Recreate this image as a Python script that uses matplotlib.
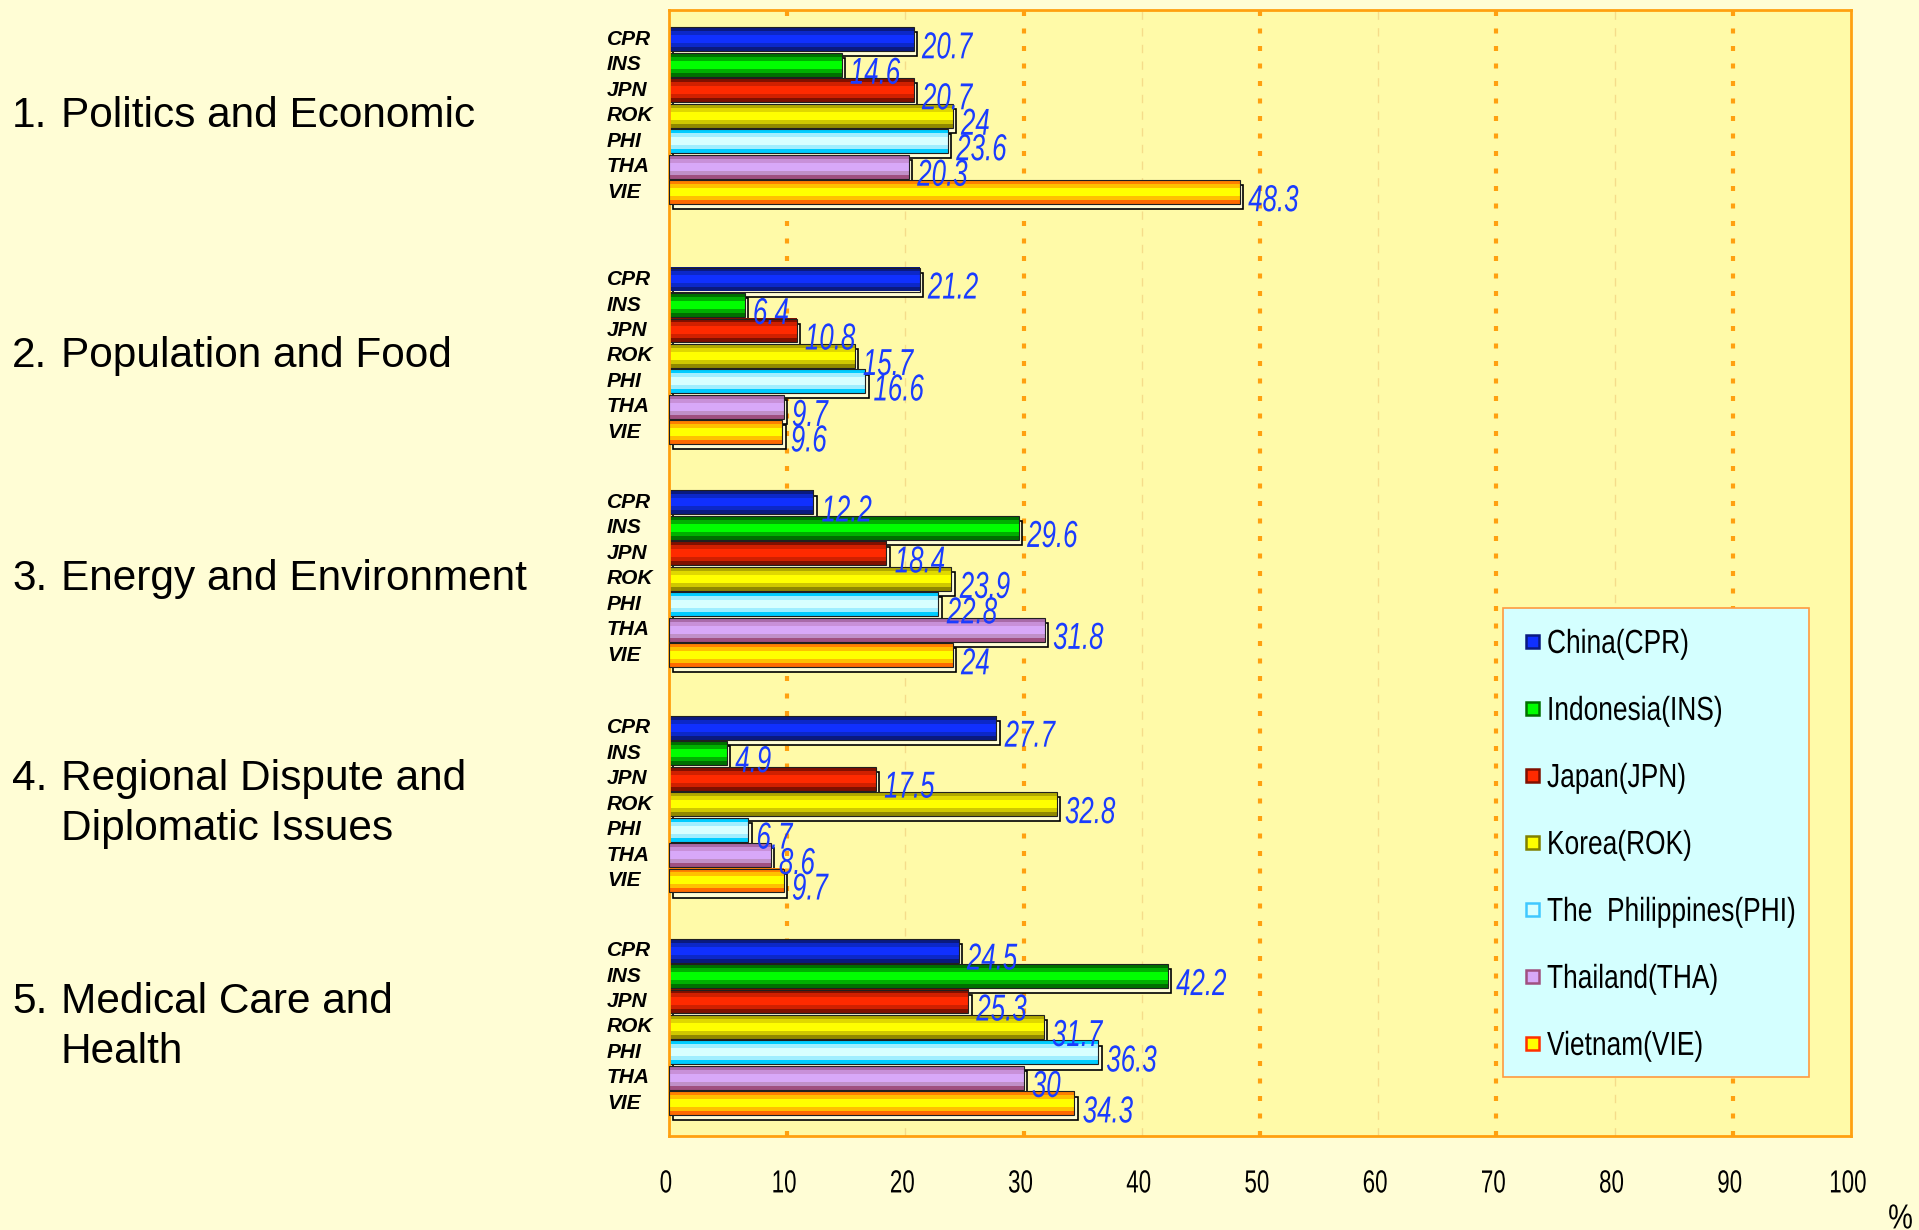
import matplotlib
matplotlib.use("Agg")
import matplotlib.pyplot as plt
import matplotlib.transforms as mtransforms
from matplotlib.patches import Rectangle, PathPatch
from matplotlib.textpath import TextPath
from matplotlib.font_manager import FontProperties
from matplotlib.colors import to_rgb
import numpy as np

# ---- data ----
topics = ["Politics and Economic", "Population and Food", "Energy and Environment",
          "Regional Dispute and\nDiplomatic Issues", "Medical Care and\nHealth"]
codes = ["CPR", "INS", "JPN", "ROK", "PHI", "THA", "VIE"]
countries = ["China(CPR)", "Indonesia(INS)", "Japan(JPN)", "Korea(ROK)",
             "The  Philippines(PHI)", "Thailand(THA)", "Vietnam(VIE)"]
politics = [20.7, 14.6, 20.7, 24, 23.6, 20.3, 48.3]
population = [21.2, 6.4, 10.8, 15.7, 16.6, 9.7, 9.6]
energy = [12.2, 29.6, 18.4, 23.9, 22.8, 31.8, 24]
dispute = [27.7, 4.9, 17.5, 32.8, 6.7, 8.6, 9.7]
medical = [24.5, 42.2, 25.3, 31.7, 36.3, 30, 34.3]
values = [politics, population, energy, dispute, medical]
xticks = [0, 10, 20, 30, 40, 50, 60, 70, 80, 90, 100]

# vertical colour bands for each country bar (top -> bottom)
bands = [
    ["#0a1a80", "#0c28c8", "#1030ff", "#1030ff", "#0c28c8", "#0a1a80"],
    ["#007000", "#00b000", "#00ff00", "#00ff00", "#00b000", "#007000"],
    ["#801000", "#d02000", "#ff2a00", "#ff2a00", "#d02000", "#801000"],
    ["#b0a800", "#e0d800", "#ffff00", "#ffff00", "#d0c800", "#908800"],
    ["#00ccff", "#a0eeff", "#d8ffff", "#d8ffff", "#a0eeff", "#00ccff"],
    ["#a86aa8", "#c890d8", "#d8a8f8", "#d8a8f8", "#c090c8", "#a05080"],
    ["#ff8000", "#ffc000", "#ffff00", "#ffff00", "#ffc000", "#ff6a00"],
]
legend_face = ["#1030ff", "#00ff00", "#ff2a00", "#ffff00", "#d8ffff", "#d8a8f8", "#ffff00"]
legend_edge = ["#0a1a80", "#007000", "#801000", "#808000", "#40c8ff", "#a05080", "#ff3000"]

fig_bg = "#fffdd5"
ax_bg = "#fffaa8"
orange = "#ffa010"

W, H = 1919, 1230
fig = plt.figure(figsize=(W / 100, H / 100), dpi=100, facecolor=fig_bg)
ax = fig.add_axes([669 / W, 1 - 1136 / H, (1851 - 669) / W, (1136 - 10) / H])
ax.set_facecolor(ax_bg)
PX = fig.dpi / 72.0


def ctext(x, y, s, size, trans, sx=0.78, ha="left", va="center", color="black",
          style="normal", weight="normal", zorder=6):
    """Draw horizontally condensed text as a path (no narrow font installed)."""
    fp = FontProperties(family="Liberation Sans", style=style, weight=weight)
    tp = TextPath((0, 0), s, size=size, prop=fp)
    w = tp.get_extents().x1
    ox = {"left": 0, "center": w / 2, "right": w}[ha]
    oy = {"center": 0.716 * size / 2, "baseline": 0}[va]
    tr = (mtransforms.Affine2D().translate(-ox, -oy).scale(sx * PX, PX)
          + mtransforms.ScaledTranslation(x, y, trans))
    fig.add_artist(PathPatch(tp, transform=tr, facecolor=color, edgecolor="none",
                             zorder=zorder, clip_on=False))


# slot positions of the first bar (CPR) of each group, in bar-slot units
group_start = [1.15, 10.58, 19.33, 28.17, 36.92]
bar_h = 0.94
dx, dy = 0.3, 0.2

trans_lab = mtransforms.blended_transform_factory(fig.transFigure, ax.transData)

for g, vals in enumerate(values):
    for k, v in enumerate(vals):
        yc = group_start[g] + k
        top = yc - bar_h / 2
        # offset outline box (3D look)
        ax.add_patch(Rectangle((dx, top + dy), v, bar_h, facecolor=fig_bg,
                               edgecolor="black", lw=1.2, zorder=2 + k * 0.1))
        rgb = np.array([to_rgb(c) for c in bands[k]])[:, None, :]
        ax.imshow(rgb, extent=(0, v, top + bar_h, top), aspect="auto",
                  interpolation="nearest", zorder=2.05 + k * 0.1)
        ax.add_patch(Rectangle((0, top), v, bar_h, facecolor="none",
                               edgecolor="#202020", lw=0.8, zorder=2.06 + k * 0.1))
        ctext(v + 0.7, yc + 0.22, f"{v:g}", 27, ax.transData, sx=0.69,
              color="#1a3cff", style="italic")
        ax.text(607 / W, yc, codes[k], transform=trans_lab, fontsize=15,
                fontweight="bold", style="italic", ha="left", va="center",
                family="Liberation Sans")
    gc = group_start[g] + 3
    nlines = topics[g].count("\n") + 1
    ax.text(12 / W, gc, f"{g + 1}." + "\n " * (nlines - 1), transform=trans_lab,
            fontsize=30.5, family="Liberation Sans", ha="left", va="center",
            linespacing=1.32)
    ax.text(61 / W, gc, topics[g], transform=trans_lab, fontsize=30.5,
            family="Liberation Sans", ha="left", va="center", linespacing=1.32)

# grid lines
for x in [10, 30, 50, 70, 90]:
    ax.axvline(x, color=orange, lw=3, ls=(0, (1.2, 3)), zorder=1)
for x in [20, 40, 60, 80]:
    ax.axvline(x, color="#f5dc8a", lw=1, ls=(0, (6, 6)), zorder=1)

ax.set_xlim(0, 100)
ax.set_ylim(44.2, 0)
ax.set_xticks(xticks)
ax.set_xticklabels([])
ax.tick_params(axis="x", length=0)
ax.set_yticks([])
for s in ax.spines.values():
    s.set_color(orange)
    s.set_linewidth(2)

trans_tick = mtransforms.blended_transform_factory(ax.transData, fig.transFigure)
for t in xticks:
    ctext(t - 0.3, 1 - 1181 / H, str(t), 23, trans_tick, sx=0.7, ha="center")
ctext(1900 / W, 1 - 1216 / H, "%", 25, fig.transFigure, sx=0.8, ha="center")

# legend box drawn by hand to match the original layout
fig.add_artist(Rectangle((1503 / W, 1 - 1077 / H), (1809 - 1503) / W, (1077 - 608) / H,
                         transform=fig.transFigure, facecolor="#d4ffff",
                         edgecolor="#ff9a40", lw=1.2, zorder=5))
for k, name in enumerate(countries):
    yk = 1 - (641 + k * 67) / H
    fig.add_artist(Rectangle((1526 / W, yk - 6.5 / H), 13 / W, 13 / H,
                             transform=fig.transFigure, facecolor=legend_face[k],
                             edgecolor=legend_edge[k], lw=1.8, zorder=6))
    ctext(1547 / W, yk, name, 24, fig.transFigure, sx=0.79)

fig.savefig("out.png", dpi=100, facecolor=fig_bg)
